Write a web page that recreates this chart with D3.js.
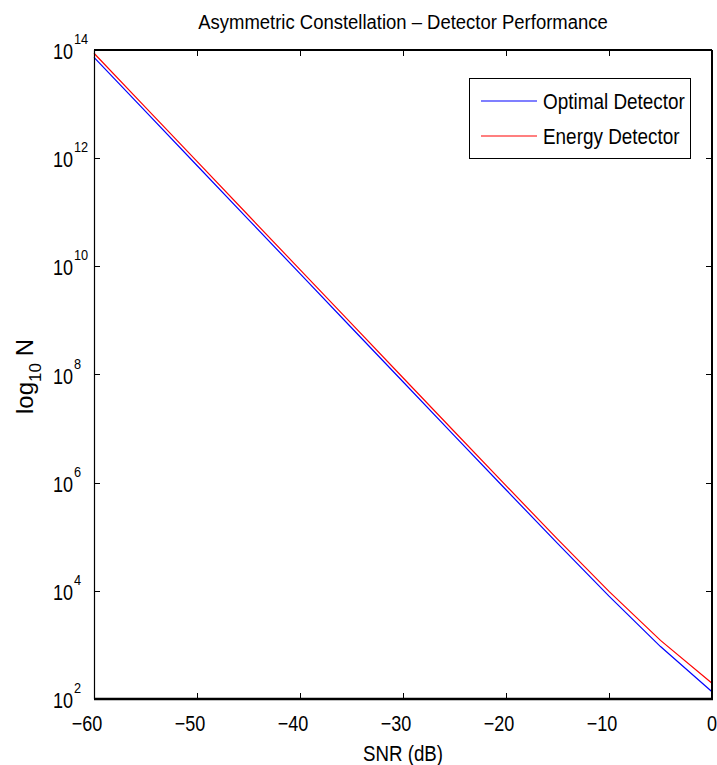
<!DOCTYPE html>
<html>
<head>
<meta charset="utf-8">
<script src="https://cdn.jsdelivr.net/npm/d3@7"></script>
<style>
  html, body { margin: 0; padding: 0; background: #fff; }
  svg { display: block; }
  text { font-family: "Liberation Sans", Arial, Helvetica, sans-serif; fill: #000; }
</style>
</head>
<body>
<svg id="chart" width="717" height="765"></svg>
<script>
const snrDb = [-60, -55, -50, -45, -40, -35, -30, -25, -20, -15, -10, -5, 0];
const optimalN = [7.33e13, 7.33e12, 7.33e11, 7.33e10, 7.33e9, 7.33e8, 7.34e7, 7.35e6, 7.39e5, 7.53e4, 7960, 932, 136];
const energyN  = [8.7e13, 8.7e12, 8.7e11, 8.7e10, 8.7e9, 8.7e8, 8.71e7, 8.73e6, 8.81e5, 9.04e4, 9780, 1212, 195];
const seriesNames = ["Optimal Detector", "Energy Detector"];
const seriesColors = ["#0000ff", "#ff0000"];
const xTicks = [-60, -50, -40, -30, -20, -10, 0];
const yTickExponents = [2, 4, 6, 8, 10, 12, 14];
const titleText = "Asymmetric Constellation \u2013 Detector Performance";
const xLabelText = "SNR (dB)";

const svg = d3.select("#chart");
const L = 94, R = 712, T = 50, B = 699;

const x = d3.scaleLinear().domain([-60, 0]).range([L, R]);
const y = d3.scaleLog().domain([1e2, 1e14]).range([B, T]);

// narrow-looking text via horizontal scaling
function addText(parent, px, py, str, size, anchor, sx) {
  return parent.append("text")
    .attr("transform", `translate(${px},${py}) scale(${sx},1)`)
    .attr("text-anchor", anchor)
    .attr("font-size", size)
    .text(str);
}

// Ticks (inside, both sides)
const tickLen = 6;
const g = svg.append("g");
xTicks.forEach(v => {
  const px = Math.round(x(v)) + 0.5;
  g.append("line").attr("x1", px).attr("x2", px).attr("y1", B).attr("y2", B - tickLen).attr("stroke", "#000");
  g.append("line").attr("x1", px).attr("x2", px).attr("y1", T).attr("y2", T + tickLen).attr("stroke", "#000");
});
yTickExponents.forEach(e => {
  const py = Math.round(y(Math.pow(10, e))) + 0.5;
  g.append("line").attr("x1", L).attr("x2", L + tickLen).attr("y1", py).attr("y2", py).attr("stroke", "#000");
  g.append("line").attr("x1", R).attr("x2", R - tickLen).attr("y1", py).attr("y2", py).attr("stroke", "#000");
});

// Lines
const line = d3.line().x((d, i) => x(snrDb[i])).y(d => y(d));
[optimalN, energyN].forEach((data, k) => {
  svg.append("path").datum(data)
    .attr("d", line)
    .attr("fill", "none")
    .attr("stroke", seriesColors[k])
    .attr("stroke-width", 1.2);
});

// Frame
svg.append("line").attr("x1", L).attr("x2", R).attr("y1", T).attr("y2", T).attr("stroke", "#000").attr("stroke-width", 2);
svg.append("line").attr("x1", L).attr("x2", R + 1).attr("y1", B).attr("y2", B).attr("stroke", "#000").attr("stroke-width", 2.5);
svg.append("line").attr("x1", L + 0.5).attr("x2", L + 0.5).attr("y1", T).attr("y2", B).attr("stroke", "#000").attr("stroke-width", 1.2);
svg.append("line").attr("x1", R).attr("x2", R).attr("y1", T).attr("y2", B).attr("stroke", "#000").attr("stroke-width", 2);

// X tick labels
xTicks.forEach(v => {
  addText(svg, x(v) - (v < 0 ? 7 : 0), B + 32,
    v < 0 ? "\u2212" + Math.abs(v) : String(v), 22, "middle", 0.82);
});

// Y tick labels
yTickExponents.forEach(e => {
  const py = y(Math.pow(10, e));
  addText(svg, 73, py + 9, "10", 22, "end", 0.82);
  addText(svg, 74, py - 6, String(e), 15, "start", 0.85);
});

// Title
addText(svg, (L + R) / 2, 29, titleText, 21, "middle", 0.88);

// X label
addText(svg, (L + R) / 2, 761, xLabelText, 22, "middle", 0.85);

// Y label
const yl = svg.append("text")
  .attr("transform", `translate(33, ${(T + B) / 2 + 2}) rotate(-90)`)
  .attr("text-anchor", "middle")
  .attr("font-size", 24);
yl.append("tspan").text("log");
yl.append("tspan").attr("font-size", 17).attr("dy", 8).text("10");
yl.append("tspan").attr("dy", -8).text(" N");

// Legend
const lg = svg.append("g");
lg.append("rect").attr("x", 469.5).attr("y", 78.5).attr("width", 221).attr("height", 80)
  .attr("fill", "#fff").attr("stroke", "#000").attr("stroke-width", 1);
seriesNames.forEach((name, k) => {
  const ly = 101 + k * 35;
  lg.append("line").attr("x1", 481).attr("x2", 537).attr("y1", ly).attr("y2", ly)
    .attr("stroke", seriesColors[k]).attr("stroke-width", 1.2);
  addText(lg, 543, ly + 8, name, 22, "start", 0.86);
});
</script>
</body>
</html>
